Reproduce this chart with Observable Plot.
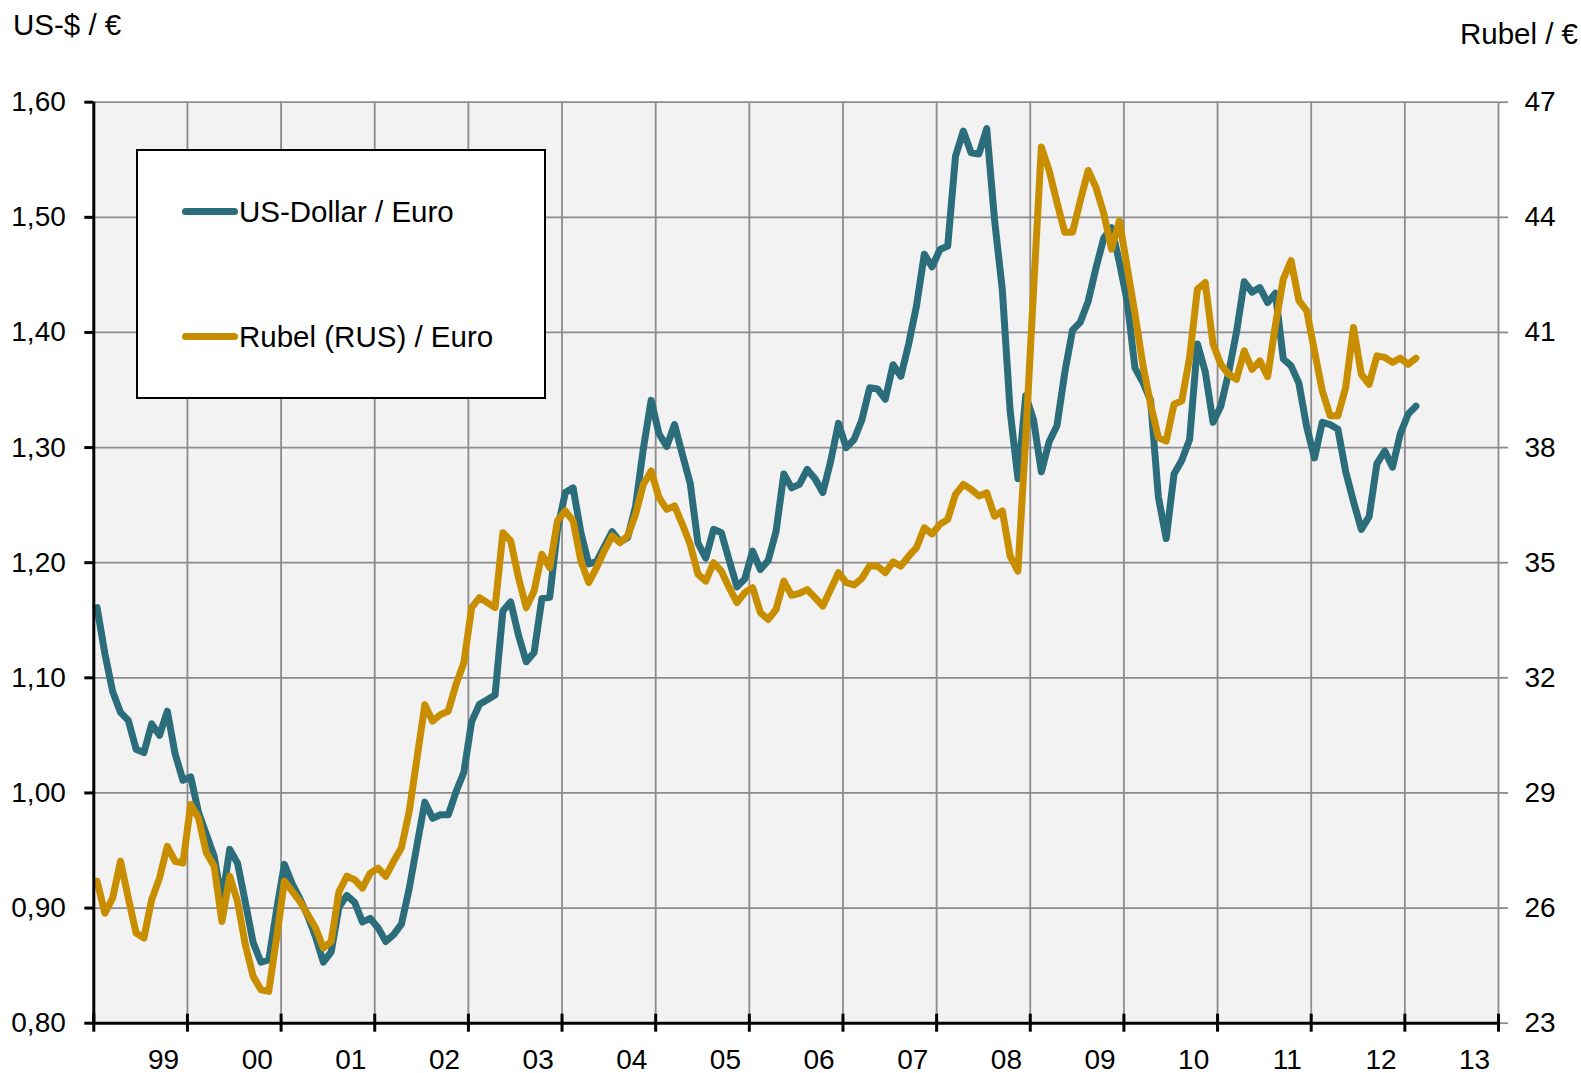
<!DOCTYPE html>
<html>
<head>
<meta charset="utf-8">
<script src="https://cdn.jsdelivr.net/npm/d3@7"></script>
<script src="https://cdn.jsdelivr.net/npm/@observablehq/plot@0.6"></script>
<style>
  html, body { margin: 0; padding: 0; background: #fff; }
  #wrap { position: relative; width: 1581px; height: 1073px; font-family: "Liberation Sans", Arial, sans-serif; color: #000; }
  #wrap svg { position: absolute; left: 0; top: 0; }
  .ttl { position: absolute; font-size: 29.5px; line-height: 29.5px; white-space: nowrap; }
  .legend { position: absolute; left: 136px; top: 149px; width: 410px; height: 250px; box-sizing: border-box; border: 2px solid #000; background: #fff; }
  .legend .sw { position: absolute; left: 44px; width: 56px; height: 7px; border-radius: 3.5px; }
  .legend .lb { position: absolute; left: 101px; font-size: 29.5px; line-height: 29.5px; white-space: nowrap; }
</style>
</head>
<body>
<div id="wrap"></div>
<script>
// ---- data (monthly averages, Jan 1999 .. Feb 2013) ----
const startYear = 1999;
const usdPerEuro = [
  1.161, 1.121, 1.088, 1.070, 1.063, 1.038, 1.035, 1.060, 1.050, 1.071, 1.034, 1.011,
  1.014, 0.983, 0.964, 0.945, 0.906, 0.951, 0.939, 0.905, 0.870, 0.853, 0.855, 0.898,
  0.938, 0.921, 0.908, 0.893, 0.875, 0.853, 0.862, 0.901, 0.911, 0.905, 0.888, 0.891,
  0.883, 0.871, 0.877, 0.886, 0.917, 0.955, 0.992, 0.978, 0.981, 0.981, 1.001, 1.018,
  1.062, 1.077, 1.081, 1.085, 1.158, 1.166, 1.137, 1.114, 1.122, 1.169, 1.170, 1.229,
  1.261, 1.265, 1.226, 1.199, 1.201, 1.214, 1.227, 1.218, 1.222, 1.249, 1.299, 1.341,
  1.312, 1.301, 1.320, 1.294, 1.269, 1.217, 1.204, 1.229, 1.226, 1.202, 1.179, 1.186,
  1.210, 1.194, 1.202, 1.227, 1.277, 1.265, 1.268, 1.281, 1.273, 1.261, 1.288, 1.321,
  1.300, 1.307, 1.324, 1.352, 1.351, 1.342, 1.372, 1.362, 1.390, 1.423, 1.468, 1.457,
  1.472, 1.475, 1.553, 1.575, 1.556, 1.555, 1.577, 1.498, 1.437, 1.332, 1.273, 1.345,
  1.324, 1.279, 1.305, 1.319, 1.365, 1.402, 1.409, 1.427, 1.456, 1.482, 1.491, 1.461,
  1.427, 1.369, 1.357, 1.341, 1.257, 1.221, 1.277, 1.289, 1.307, 1.390, 1.366, 1.322,
  1.336, 1.365, 1.400, 1.444, 1.435, 1.439, 1.426, 1.434, 1.377, 1.371, 1.356, 1.318,
  1.291, 1.322, 1.320, 1.316, 1.279, 1.253, 1.229, 1.240, 1.286, 1.297, 1.283, 1.312,
  1.329, 1.336
];
const rubelPerEuro = [
  26.70, 25.87, 26.26, 27.22, 26.26, 25.35, 25.22, 26.22, 26.78, 27.61, 27.22, 27.17,
  28.70, 28.35, 27.44, 27.09, 25.65, 26.83, 26.17, 25.04, 24.22, 23.87, 23.83, 25.22,
  26.70, 26.44, 26.17, 25.83, 25.48, 24.96, 25.13, 26.43, 26.83, 26.74, 26.52, 26.91,
  27.04, 26.83, 27.22, 27.57, 28.52, 29.91, 31.30, 30.87, 31.04, 31.13, 31.83, 32.39,
  33.83, 34.09, 33.96, 33.83, 35.78, 35.57, 34.61, 33.83, 34.26, 35.22, 34.87, 36.09,
  36.35, 36.09, 35.04, 34.48, 34.87, 35.31, 35.70, 35.52, 35.70, 36.26, 37.04, 37.39,
  36.70, 36.39, 36.48, 36.00, 35.48, 34.70, 34.52, 35.00, 34.78, 34.35, 33.96, 34.22,
  34.35, 33.70, 33.52, 33.78, 34.52, 34.15, 34.20, 34.30, 34.09, 33.87, 34.30, 34.74,
  34.48, 34.42, 34.59, 34.92, 34.91, 34.74, 35.02, 34.91, 35.17, 35.39, 35.91, 35.75,
  36.00, 36.13, 36.78, 37.04, 36.91, 36.74, 36.82, 36.21, 36.35, 35.17, 34.78, 38.27,
  42.09, 45.83, 45.22, 44.39, 43.61, 43.61, 44.44, 45.22, 44.78, 44.10, 43.17, 43.91,
  42.70, 41.48, 40.17, 39.13, 38.26, 38.17, 39.13, 39.22, 40.35, 42.13, 42.30, 40.70,
  40.17, 39.91, 39.78, 40.52, 40.04, 40.26, 39.85, 41.20, 42.39, 42.87, 41.83, 41.57,
  40.52, 39.48, 38.83, 38.83, 39.57, 41.13, 39.91, 39.65, 40.39, 40.35, 40.22, 40.33,
  40.17, 40.33
];
const leftTicks = [0.80, 0.90, 1.00, 1.10, 1.20, 1.30, 1.40, 1.50, 1.60];
const leftLabels = ["0,80", "0,90", "1,00", "1,10", "1,20", "1,30", "1,40", "1,50", "1,60"];
const rightLabels = ["23", "26", "29", "32", "35", "38", "41", "44", "47"];
const yearTicks = [1999, 2000, 2001, 2002, 2003, 2004, 2005, 2006, 2007, 2008, 2009, 2010, 2011, 2012, 2013, 2014];
const yearLabels = ["99", "00", "01", "02", "03", "04", "05", "06", "07", "08", "09", "10", "11", "12", "13"];
const seriesNames = ["US-Dollar / Euro", "Rubel (RUS) / Euro"];
const leftTitle = "US-$ / €";
const rightTitle = "Rubel / €";

// ---- styling ----
const colUSD = "#2b6d7b";
const colRUB = "#c88e00";
const gridCol = "#8c8c8c";
const font = "Liberation Sans, Arial, sans-serif";
const lineW = 7;

// right axis (Rubel 23..47) mapped onto left axis (0.80..1.60)
const rMin = 23, rMax = 47, lMin = 0.8, lMax = 1.6;
const toLeft = r => lMin + (r - rMin) * (lMax - lMin) / (rMax - rMin);

const tOf = i => startYear + i / 12 + 0.035;
const usdData = usdPerEuro.map((v, i) => ({t: tOf(i), v}));
const rubData = rubelPerEuro.map((r, i) => ({t: tOf(i), v: toLeft(r)}));
const labelData = yearLabels.map((s, i) => ({x: yearTicks[i] + 0.745, s}));

const chart = Plot.plot({
  width: 1581,
  height: 1073,
  marginLeft: 93.3,
  marginRight: 83,
  marginTop: 101.7,
  marginBottom: 50.3,
  style: {fontFamily: font, background: "transparent", overflow: "visible", color: "#000"},
  x: {type: "linear", domain: [yearTicks[0], yearTicks[yearTicks.length - 1]], axis: null},
  y: {domain: [lMin, lMax], axis: null},
  marks: [
    Plot.frame({fill: "#f2f2f2", stroke: null}),
    Plot.gridY(leftTicks, {stroke: gridCol, strokeOpacity: 1, strokeWidth: 1.8}),
    Plot.gridX(yearTicks.slice(1, -1), {stroke: gridCol, strokeOpacity: 1, strokeWidth: 1.8}),
    // right axis line + ticks (grey)
    Plot.ruleX([yearTicks[yearTicks.length - 1]], {stroke: gridCol, strokeWidth: 1.8}),
    Plot.axisY(leftTicks, {anchor: "right", label: null, tickSize: 9, stroke: gridCol, strokeWidth: 1.8, tickFormat: () => ""}),
    Plot.axisY(leftTicks, {anchor: "right", label: null, tickSize: 0, tickPadding: 26, fontSize: 28, fill: "#000",
      tickFormat: d => rightLabels[leftTicks.indexOf(d)]}),
    // data lines
    Plot.line(usdData, {x: "t", y: "v", stroke: colUSD, strokeWidth: lineW, strokeLinejoin: "round", strokeLinecap: "round"}),
    Plot.line(rubData, {x: "t", y: "v", stroke: colRUB, strokeWidth: lineW, strokeLinejoin: "round", strokeLinecap: "round"}),
    // left axis (black)
    Plot.ruleX([yearTicks[0]], {stroke: "#000", strokeWidth: 3}),
    Plot.axisY(leftTicks, {anchor: "left", label: null, tickSize: 9, stroke: "#000", strokeWidth: 3, tickFormat: () => ""}),
    Plot.axisY(leftTicks, {anchor: "left", label: null, tickSize: 0, tickPadding: 28, fontSize: 28, fill: "#000",
      tickFormat: d => leftLabels[leftTicks.indexOf(d)]}),
    // bottom axis (black) with crossing ticks
    Plot.ruleY([lMin], {stroke: "#000", strokeWidth: 3}),
    Plot.axisX(yearTicks, {anchor: "bottom", label: null, tickSize: 18, dy: -9, stroke: "#000", strokeWidth: 3, tickFormat: () => ""}),
    Plot.text(labelData, {x: "x", y: () => lMin, text: "s", lineAnchor: "top", dy: 26, fontSize: 28, fill: "#000"})
  ]
});

const wrap = document.getElementById("wrap");
wrap.appendChild(chart);

function addDiv(cls, text, css) {
  const d = document.createElement("div");
  d.className = cls;
  if (text != null) d.textContent = text;
  Object.assign(d.style, css);
  return d;
}
wrap.appendChild(addDiv("ttl", leftTitle, {left: "13px", top: "10px"}));
wrap.appendChild(addDiv("ttl", rightTitle, {right: "3px", top: "19px"}));

const lg = addDiv("legend", null, {});
lg.appendChild(addDiv("sw", null, {top: "56.5px", background: colUSD}));
lg.appendChild(addDiv("lb", seriesNames[0], {top: "45.5px"}));
lg.appendChild(addDiv("sw", null, {top: "181.5px", background: colRUB}));
lg.appendChild(addDiv("lb", seriesNames[1], {top: "170.5px"}));
wrap.appendChild(lg);
</script>
</body>
</html>
